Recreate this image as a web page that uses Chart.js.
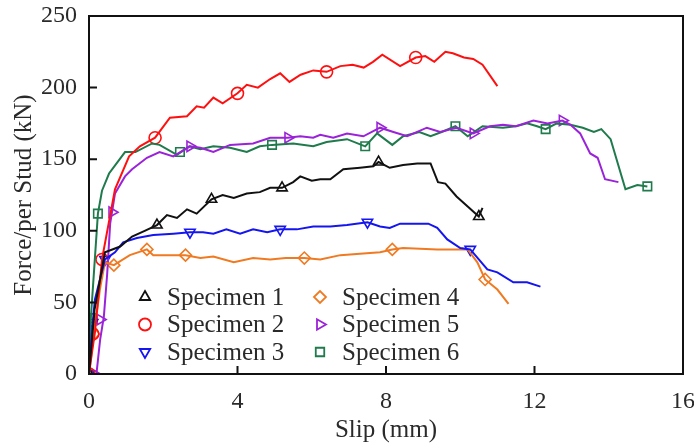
<!DOCTYPE html>
<html>
<head>
<meta charset="utf-8">
<script src="https://cdn.jsdelivr.net/npm/chart.js@4.4.0/dist/chart.umd.min.js"></script>
<style>
  html, body { margin: 0; padding: 0; background: #fff; }
  #wrap { width: 694px; height: 443px; }
</style>
</head>
<body>
<div id="wrap"><canvas id="chart"></canvas></div>
<script>
// Load-slip curves, values

const labels = ["Specimen 1", "Specimen 2", "Specimen 3", "Specimen 4", "Specimen 5", "Specimen 6"];
const xTicks = [0, 4, 8, 12, 16];
const yTicks = [0, 50, 100, 150, 200, 250];

const slip1 = [0, 0.15, 0.43, 0.84, 1.16, 1.5, 1.83, 2.1, 2.37, 2.64, 2.9, 3.3, 3.6, 3.9, 4.25, 4.6, 4.88, 5.2, 5.5, 5.69, 6.0, 6.23, 6.5, 6.85, 7.3, 7.66, 7.8, 8.1, 8.46, 8.84, 9.2, 9.4, 9.6, 9.9, 10.2, 10.5, 10.6];
const force1 = [0, 45, 85, 89, 96, 100, 104, 111, 109, 115, 112, 122, 125, 123, 126, 127, 130, 130, 134, 138, 135, 136, 136, 143, 144, 145, 148, 144, 146, 147, 147, 134, 133, 124, 117, 110, 116];
const mark1X = [0, 1.83, 3.3, 5.2, 7.8, 10.5];
const mark1Y = [0, 104, 122, 130, 148, 110];

const slip2 = [0, 0.08, 0.16, 0.35, 0.7, 1.08, 1.37, 1.78, 2.18, 2.64, 2.9, 3.1, 3.35, 3.6, 4.0, 4.25, 4.55, 4.88, 5.15, 5.4, 5.7, 6.04, 6.4, 6.77, 7.1, 7.4, 7.65, 7.9, 8.38, 8.8, 9.06, 9.3, 9.6, 9.8, 10.1, 10.35, 10.6, 11.0];
const force2 = [0, 15, 29, 80, 129, 152, 159, 165, 179, 180, 187, 186, 193, 189, 196, 202, 200, 206, 210, 204, 209, 212, 211, 215, 216, 214, 218, 223, 215, 221, 222, 218, 225, 224, 221, 220, 216, 201];
const mark2X = [0, 0.1, 0.35, 1.78, 4.0, 6.4, 8.8];
const mark2Y = [0, 28, 80, 165, 196, 211, 221];

const slip3 = [0, 0.1, 0.16, 0.43, 0.7, 0.92, 1.29, 1.73, 2.27, 2.72, 3.07, 3.35, 3.7, 4.07, 4.42, 4.8, 5.15, 5.6, 6.04, 6.5, 6.95, 7.5, 7.84, 8.1, 8.38, 9.14, 9.38, 9.65, 10.0, 10.27, 10.73, 11.0, 11.43, 11.8, 12.16];
const force3 = [0, 36, 52, 80, 85, 92, 95, 97, 98, 99, 99, 98, 101, 98, 101, 99, 101, 101, 103, 103, 104, 106, 103, 102, 105, 105, 102, 94, 88, 87, 73, 71, 64, 64, 61];
const mark3X = [0, 0.1, 0.43, 2.72, 5.15, 7.5, 10.27];
const mark3Y = [0, 36, 80, 99, 101, 106, 87];

const slip4 = [0, 0.13, 0.3, 0.43, 0.67, 1.1, 1.56, 1.73, 2.1, 2.6, 3.0, 3.35, 3.9, 4.42, 4.88, 5.3, 5.8, 6.23, 6.77, 7.3, 7.84, 8.17, 8.46, 9.38, 10.2, 10.46, 10.67, 11.0, 11.3];
const force4 = [0, 28, 60, 78, 76, 83, 87, 83, 83, 83, 81, 82, 78, 81, 80, 81, 81, 80, 83, 84, 85, 87, 88, 87, 87, 78, 66, 59, 49];
const mark4X = [0, 0.13, 0.67, 1.56, 2.6, 5.8, 8.17, 10.67];
const mark4Y = [0, 28, 76, 87, 83, 81, 87, 66];

const slip5 = [0.2, 0.3, 0.4, 0.49, 0.57, 0.7, 0.97, 1.16, 1.56, 1.9, 2.27, 2.72, 3.0, 3.35, 3.8, 4.42, 4.88, 5.36, 5.69, 6.04, 6.23, 6.58, 6.95, 7.39, 7.84, 8.2, 8.57, 9.1, 9.46, 9.9, 10.35, 10.8, 11.15, 11.5, 11.97, 12.35, 12.75, 12.97, 13.23, 13.5, 13.7, 13.9, 14.26];
const force5 = [0, 24, 40, 70, 105, 126, 138, 143, 151, 155, 152, 159, 158, 155, 160, 161, 165, 165, 166, 165, 167, 165, 168, 166, 172, 169, 166, 172, 169, 172, 168, 173, 174, 173, 177, 175, 177, 174, 168, 154, 151, 136, 134];
const mark5X = [0.15, 0.3, 0.62, 2.72, 5.36, 7.84, 10.35, 12.75];
const mark5Y = [0, 38, 113, 159, 165, 172, 168, 177];

const slip6 = [0, 0.05, 0.24, 0.35, 0.54, 0.97, 1.25, 1.7, 1.9, 2.37, 2.7, 3.0, 3.35, 3.8, 4.25, 4.6, 4.93, 5.5, 6.04, 6.4, 6.95, 7.44, 7.76, 8.17, 8.46, 8.9, 9.2, 9.5, 9.87, 10.2, 10.6, 11.15, 11.5, 11.8, 12.07, 12.3, 12.6, 12.97, 13.3, 13.6, 13.8, 14.05, 14.45, 14.77, 15.04];
const force6 = [0, 39, 112, 128, 140, 155, 155, 161, 160, 153, 159, 157, 159, 158, 155, 159, 160, 161, 159, 162, 164, 159, 168, 160, 166, 169, 166, 169, 173, 166, 173, 172, 173, 175, 173, 171, 175, 174, 172, 169, 171, 164, 129, 132, 131];
const mark6X = [0, 0.05, 0.24, 2.45, 4.93, 7.44, 9.87, 12.3, 15.04];
const mark6Y = [0, 39, 112, 155, 160, 159, 173, 171, 131];

const colors = ["#111111", "#ff1010", "#1515f0", "#f07a22", "#9a22d8", "#1f7a4c"];
const styles = ["triangle", "circle", "triangle", "rectRot", "triangle", "rect"];
const rotations = [0, 0, 180, 0, 90, 0];

const lines = [[slip1, force1], [slip2, force2], [slip3, force3], [slip4, force4], [slip5, force5], [slip6, force6]];
const marks = [[mark1X, mark1Y], [mark2X, mark2Y], [mark3X, mark3Y], [mark4X, mark4Y], [mark5X, mark5Y], [mark6X, mark6Y]];

const toPoints = (xs, ys) => xs.map((x, i) => ({ x: x, y: ys[i] }));

const datasets = [];
lines.forEach(([xs, ys], i) => {
  datasets.push({
    label: labels[i] + " curve",
    data: toPoints(xs, ys),
    borderColor: colors[i],
    borderWidth: 2,
    pointRadius: 0,
    tension: 0,
    isCurve: true
  });
});
marks.forEach(([xs, ys], i) => {
  datasets.push({
    label: labels[i],
    data: toPoints(xs, ys),
    showLine: false,
    borderColor: colors[i],
    backgroundColor: "rgba(0,0,0,0)",
    borderWidth: 1.6,
    pointStyle: styles[i],
    pointRotation: rotations[i],
    pointRadius: 6,
    pointHoverRadius: 6
  });
});

// frame round the plot and ticks pointing inward, taken from the scales
const framePlugin = {
  id: "frame",
  afterDraw(c) {
    const ctx = c.ctx;
    const xs = c.scales.x, ys = c.scales.y;
    const l = xs.getPixelForValue(xs.min), r = xs.getPixelForValue(xs.max);
    const t = ys.getPixelForValue(ys.max), b = ys.getPixelForValue(ys.min);
    ctx.save();
    ctx.strokeStyle = "#111";
    ctx.lineWidth = 2;
    ctx.strokeRect(l, t, r - l, b - t);
    ctx.beginPath();
    xTicks.forEach(v => {
      const px = xs.getPixelForValue(v);
      ctx.moveTo(px, b);
      ctx.lineTo(px, b - 8);
    });
    yTicks.forEach(v => {
      const py = ys.getPixelForValue(v);
      ctx.moveTo(l, py);
      ctx.lineTo(l + 8, py);
    });
    ctx.stroke();
    ctx.restore();
  }
};

// legend inside the plot, two columns of three
const legendPlugin = {
  id: "innerLegend",
  afterDraw(c) {
    const ctx = c.ctx;
    ctx.save();
    ctx.font = "25px 'Liberation Serif'";
    ctx.textBaseline = "middle";
    ctx.textAlign = "left";
    c.data.datasets.forEach(ds => {
      if (ds.isCurve) return;
      const i = labels.indexOf(ds.label);
      const col = Math.floor(i / 3), row = i % 3;
      const mx = 145 + col * 175, my = 297 + row * 27.5;
      ctx.strokeStyle = ds.borderColor;
      ctx.fillStyle = "rgba(0,0,0,0)";
      ctx.lineWidth = 1.8;
      Chart.helpers.drawPoint(ctx, { pointStyle: ds.pointStyle, rotation: ds.pointRotation, radius: 6, borderWidth: 1.8 }, mx, my);
      ctx.fillStyle = "#2a2a2a";
      ctx.fillText(ds.label, mx + 22, my + 1);
    });
    ctx.restore();
  }
};

Chart.defaults.font.family = "'Liberation Serif', 'Times New Roman', serif";
Chart.defaults.font.size = 24;
Chart.defaults.color = "#2a2a2a";

new Chart(document.getElementById("chart"), {
  type: "line",
  data: { datasets: datasets },
  options: {
    responsive: true,
    maintainAspectRatio: false,
    animation: false,
    layout: { padding: { top: 16, right: 11, left: 0, bottom: 0 } },
    plugins: { legend: { display: false }, tooltip: { enabled: false } },
    scales: {
      x: {
        type: "linear",
        min: 0,
        max: 16,
        grid: { display: false, drawTicks: false },
        border: { display: false },
        afterBuildTicks: s => { s.ticks = xTicks.map(v => ({ value: v })); },
        ticks: { padding: 13, maxRotation: 0 },
        title: { display: true, text: "Slip (mm)", font: { size: 25, lineHeight: 1 }, padding: { top: 0, bottom: 0 } },
        afterFit: s => { s.height = 69; s.paddingLeft = 0; s.paddingRight = 0; }
      },
      y: {
        min: 0,
        max: 250,
        grid: { display: false, drawTicks: false },
        border: { display: false },
        afterBuildTicks: s => { s.ticks = yTicks.map(v => ({ value: v })); },
        ticks: { padding: 12 },
        title: { display: true, text: "Force/per Stud (kN)", font: { size: 25 }, padding: { top: 9, bottom: 0 } },
        afterFit: s => { s.width = 89; s.paddingTop = 0; s.paddingBottom = 0; }
      }
    }
  },
  plugins: [framePlugin, legendPlugin]
});
</script>
</body>
</html>
